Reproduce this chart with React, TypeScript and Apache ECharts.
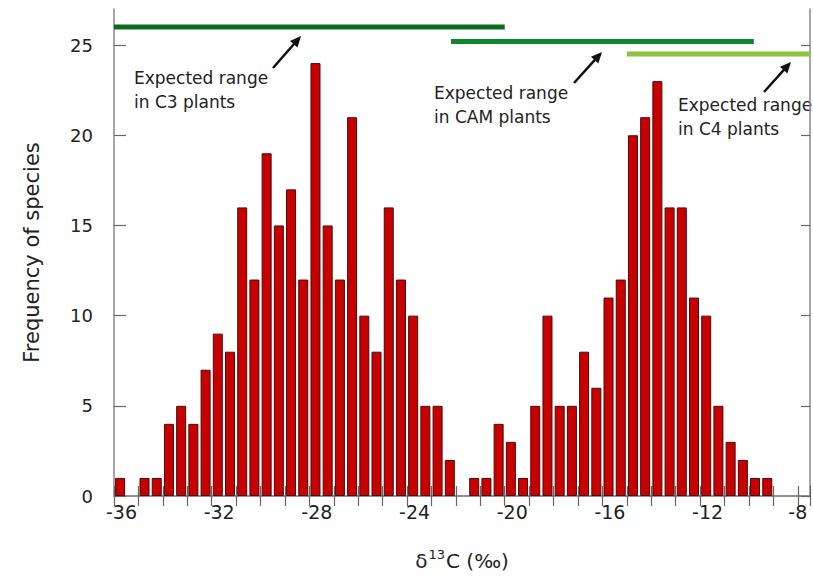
import React, { useEffect, useRef } from "react";
import * as echarts from "echarts";

// Histogram bins (0.5 ‰ wide), given by their centre
const binCenters = [
  -35.75, -35.25, -34.75, -34.25, -33.75, -33.25, -32.75, -32.25, -31.75, -31.25,
  -30.75, -30.25, -29.75, -29.25, -28.75, -28.25, -27.75, -27.25, -26.75, -26.25,
  -25.75, -25.25, -24.75, -24.25, -23.75, -23.25, -22.75, -22.25, -21.75, -21.25,
  -20.75, -20.25, -19.75, -19.25, -18.75, -18.25, -17.75, -17.25, -16.75, -16.25,
  -15.75, -15.25, -14.75, -14.25, -13.75, -13.25, -12.75, -12.25, -11.75, -11.25,
  -10.75, -10.25, -9.75, -9.25, -8.75, -8.25, -7.75,
];
const speciesCounts = [
  1, 0, 1, 1, 4, 5, 4, 7, 9, 8,
  16, 12, 19, 15, 17, 12, 24, 15, 12, 21,
  10, 8, 16, 12, 10, 5, 5, 2, 0, 1,
  1, 4, 3, 1, 5, 10, 5, 5, 8, 6,
  11, 12, 20, 21, 23, 16, 16, 11, 10, 5,
  3, 2, 1, 1, 0, 0, 0,
];

const xTickValues = [-36, -32, -28, -24, -20, -16, -12, -8];
const yTickValues = [0, 5, 10, 15, 20, 25];

// Expected ranges (top bars)
const rangeNames = ["C3", "CAM", "C4"];
const rangeStart = [-36, -22.2, -15];
const rangeEnd = [-20, -9.8, -7.5];
const rangeLevel = [26.0, 25.2, 24.5];
const rangeColors = ["#0b6a1c", "#12862a", "#8dc440"];

const annotationTexts = [
  "Expected range\nin C3 plants",
  "Expected range\nin CAM plants",
  "Expected range\nin C4 plants",
];

const FONT = "DejaVu Sans";

function arrow(x1: number, y1: number, x2: number, y2: number) {
  const dx = x2 - x1;
  const dy = y2 - y1;
  const len = Math.sqrt(dx * dx + dy * dy);
  const ux = dx / len;
  const uy = dy / len;
  const hl = 11;
  const hw = 5;
  const bx = x2 - ux * hl;
  const by = y2 - uy * hl;
  return {
    type: "group",
    children: [
      {
        type: "line",
        shape: { x1, y1, x2: bx + ux * 2, y2: by + uy * 2 },
        style: { stroke: "#111", lineWidth: 2.5 },
      },
      {
        type: "polygon",
        shape: {
          points: [
            [x2, y2],
            [bx - uy * hw, by + ux * hw],
            [bx + uy * hw, by - ux * hw],
          ],
        },
        style: { fill: "#111" },
      },
    ],
  };
}

export default function App() {
  const ref = useRef<HTMLDivElement>(null);

  useEffect(() => {
    if (!ref.current) return;
    const chart = echarts.init(ref.current, undefined, { renderer: "svg" });

    const axisLineStyle = { color: "#8a8a8a", width: 1.5 };
    const tickStyle = { color: "#666", width: 1.2 };

    const barData = binCenters
      .map((c, i) => [c, speciesCounts[i]])
      .filter((d) => d[1] > 0);

    const rangeSeries = rangeNames.map((name, i) => ({
      name,
      type: "line",
      xAxisIndex: 0,
      yAxisIndex: 0,
      symbol: "none",
      silent: true,
      z: 5,
      data: [
        [rangeStart[i], rangeLevel[i]],
        [rangeEnd[i], rangeLevel[i]],
      ],
      lineStyle: { color: rangeColors[i], width: 5, cap: "butt" },
    }));

    chart.setOption({
      animation: false,
      backgroundColor: "#fff",
      textStyle: { fontFamily: FONT },
      grid: { left: 114, right: 3, top: 9, bottom: 88 },
      xAxis: [
        {
          type: "value",
          position: "bottom",
          min: -36,
          max: -7.5,
          interval: 1,
          splitLine: { show: false },
          axisLine: { show: true, lineStyle: axisLineStyle },
          axisTick: { show: true, inside: true, length: 10, lineStyle: tickStyle },
          axisLabel: {
            customValues: xTickValues,
            margin: 6,
            color: "#222",
            fontSize: 19,
            fontFamily: FONT,
            formatter: (v: number) => (v === -8 ? `{e|${v}}` : `{n|${v}}`),
            rich: {
              n: { fontSize: 19, fontFamily: FONT, color: "#222", padding: [0, 0, 0, 15] },
              e: { fontSize: 19, fontFamily: FONT, color: "#222" },
            },
          },
          name: "{d|δ}{s|13}{c|C (‰)}",
          nameLocation: "middle",
          nameGap: 52,
          nameTextStyle: {
            rich: {
              d: { fontSize: 20, fontFamily: FONT, color: "#222" },
              s: { fontSize: 13, fontFamily: FONT, color: "#222", padding: [0, 1, 12, 1] },
              c: { fontSize: 20, fontFamily: FONT, color: "#222" },
            },
          },
        },
        {
          type: "value",
          position: "top",
          min: -36,
          max: -7.5,
          interval: 1,
          splitLine: { show: false },
          axisLine: { show: true, lineStyle: axisLineStyle },
          axisTick: { show: true, inside: true, length: 10, lineStyle: tickStyle },
          axisLabel: { show: false },
        },
      ],
      yAxis: [
        {
          type: "value",
          position: "left",
          min: 0,
          max: 27,
          interval: 5,
          splitLine: { show: false },
          axisLine: { show: true, lineStyle: axisLineStyle },
          axisTick: {
            show: true,
            inside: true,
            length: 12,
            customValues: yTickValues,
            lineStyle: tickStyle,
          },
          axisLabel: {
            customValues: yTickValues,
            margin: 21,
            color: "#222",
            fontSize: 18,
            fontFamily: FONT,
          },
          name: "Frequency of species",
          nameLocation: "middle",
          nameRotate: 90,
          nameGap: 72,
          nameTextStyle: { fontSize: 21, fontFamily: FONT, color: "#222" },
        },
        {
          type: "value",
          position: "right",
          min: 0,
          max: 27,
          interval: 5,
          splitLine: { show: false },
          axisLine: { show: true, lineStyle: axisLineStyle },
          axisTick: {
            show: true,
            inside: true,
            length: 9,
            customValues: yTickValues,
            lineStyle: tickStyle,
          },
          axisLabel: { show: false },
        },
      ],
      series: [
        {
          name: "Species",
          type: "bar",
          xAxisIndex: 0,
          yAxisIndex: 0,
          barWidth: 10,
          data: barData,
          itemStyle: { color: "#c80000", borderColor: "#4a0a0a", borderWidth: 1 },
        },
        ...rangeSeries,
      ],
      graphic: [
        {
          type: "text",
          left: 134,
          top: 66,
          style: { text: annotationTexts[0], font: `17px '${FONT}'`, fill: "#222", lineHeight: 24 },
        },
        {
          type: "text",
          left: 434,
          top: 81,
          style: { text: annotationTexts[1], font: `17px '${FONT}'`, fill: "#222", lineHeight: 24 },
        },
        {
          type: "text",
          left: 678,
          top: 93,
          style: { text: annotationTexts[2], font: `17px '${FONT}'`, fill: "#222", lineHeight: 24 },
        },
        arrow(273, 68, 301, 36),
        arrow(574, 83, 602, 52),
        arrow(764, 92, 791, 62),
      ],
    });

    return () => chart.dispose();
  }, []);

  return (
    <div
      ref={ref}
      style={{ position: "fixed", left: 0, top: 0, width: 813, height: 584, background: "#fff" }}
    />
  );
}
